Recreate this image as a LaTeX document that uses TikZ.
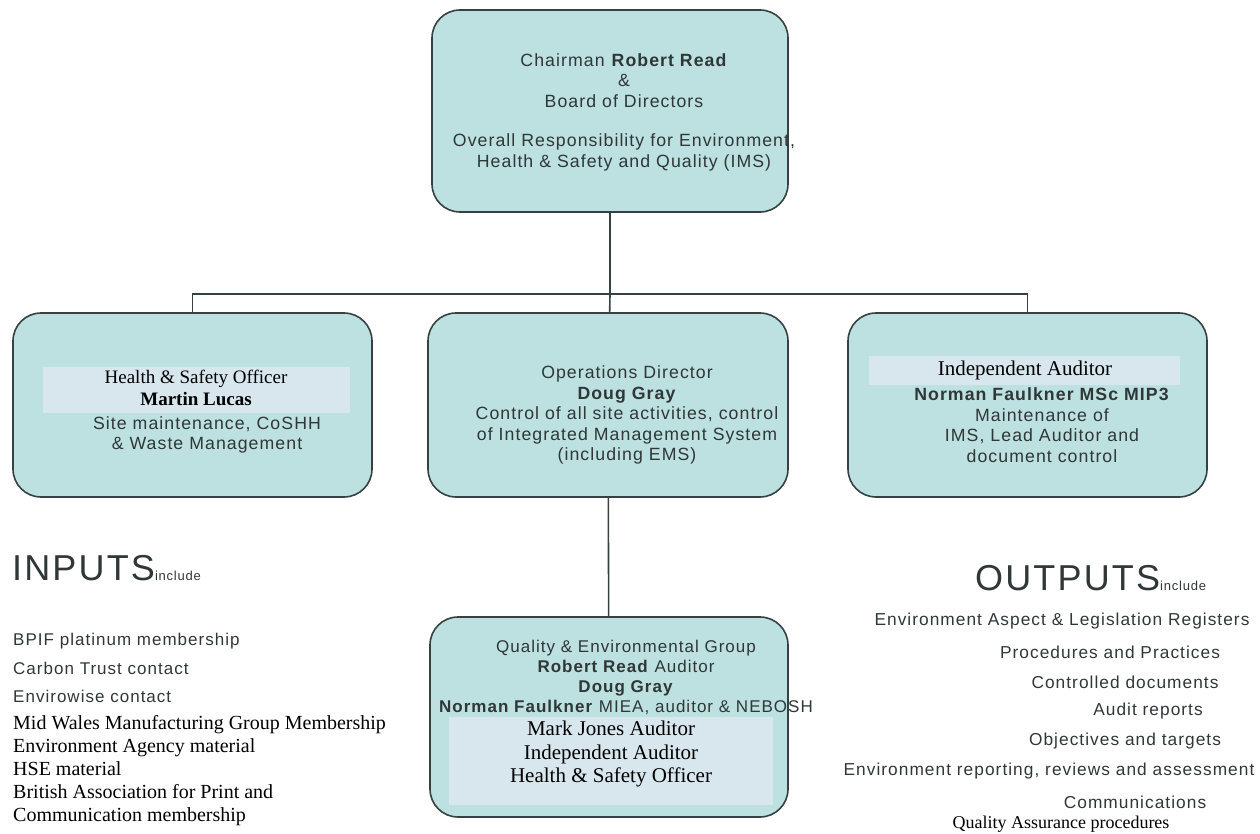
\documentclass[tikz,border=0pt]{standalone}
\usepackage{fontspec}
\setmainfont{Liberation Serif}
\newfontfamily\arialf[LetterSpace=6]{Liberation Sans}
\usetikzlibrary{positioning,calc}
\definecolor{boxfill}{HTML}{BDE0E1}
\definecolor{boxline}{HTML}{364242}
\definecolor{hilite}{HTML}{D8E6EE}
\definecolor{sgray}{HTML}{2F3737}

\begin{document}
\begin{tikzpicture}[x=1pt,y=-1pt,
   orgbox/.style={draw=boxline,fill=boxfill,line width=1.6pt,rounded corners=28pt,
              inner sep=0pt},
   hibox/.style={fill=hilite,draw=none},
   sanstxt/.style={font=\arialf\fontsize{17.7}{20.5}\selectfont,text=sgray,align=center,inner sep=0pt},
   sertxt/.style={font=\fontsize{21}{23.5}\selectfont,align=center,inner sep=0pt},
   link/.style={draw=boxline,line width=1.6pt}]
  \useasboundingbox (0,0) rectangle (1260,834);
  % boxes
  \node[orgbox,minimum width=356,minimum height=202] (chair) at (610,111) {};
  \node[orgbox,minimum width=359,minimum height=184] (hso) at (192.5,405) {};
  \node[orgbox,minimum width=360,minimum height=184] (ops) at (608,405) {};
  \node[orgbox,minimum width=359,minimum height=184] (aud) at (1027.5,405) {};
  \node[orgbox,minimum width=358,minimum height=200] (qeg) at (609,717) {};
  % connectors
  \coordinate (bus) at (610,294);
  \draw[link] (chair) -- (bus);
  \draw[link] (hso.north) |- (bus) -| (aud.north);
  \draw[link] (bus) -- (ops);
  \draw[link] (ops) -- (qeg);
  % chairman
  \node[sanstxt] (chairtxt) at (624,112) {Chairman \textbf{Robert Read}\\ \&\\ Board of Directors\\[19pt]
     Overall Responsibility for Environment,\\ Health \& Safety and Quality (IMS)};
  % health & safety
  \fill[hibox] (43,367) rectangle (350,413);
  \node[sertxt,font=\fontsize{19}{22}\selectfont] (hsoname) at (196,388) {Health \& Safety Officer\\ \textbf{Martin Lucas}};
  \node[sanstxt] (hsotxt) at (207,435) {Site maintenance, CoSHH\\ \& Waste Management};
  % operations
  \node[sanstxt] (opstxt) at (627,415) {Operations Director\\ \textbf{Doug Gray}\\ Control of all site activities, control\\
     of Integrated Management System\\ (including EMS)};
  % independent auditor
  \fill[hibox] (869,356) rectangle (1180,385);
  \node[sertxt] (audname) at (1025,370) {Independent Auditor};
  \node[sanstxt] (audtxt) at (1042,425) {\textbf{Norman Faulkner MSc MIP3}\\ Maintenance of\\ IMS, Lead Auditor and\\ document control};
  % quality group
  \node[sanstxt,font=\arialf\fontsize{17}{20}\selectfont] (qegtxt) at (626,677) {Quality \& Environmental Group\\ \textbf{Robert Read} Auditor\\ \textbf{Doug Gray}\\
     \textbf{Norman Faulkner} MIEA, auditor \& NEBOSH};
  \fill[hibox] (449,717) rectangle (773,805);
  \node[sertxt] (qegname) at (611,754) {Mark Jones Auditor\\ Independent Auditor\\ Health \& Safety Officer};
  % inputs
  \node[anchor=base west,inner sep=0pt,text=sgray] (inhead) at (12,580)
     {\arialf\fontsize{36}{36}\selectfont INPUTS\fontsize{13}{13}\selectfont include};
  \node[sanstxt,align=left,anchor=west,font=\arialf\fontsize{17}{28.5}\selectfont] (inlist) at (13,668)
     {BPIF platinum membership\\ Carbon Trust contact\\ Envirowise contact};
  \node[sertxt,align=left,anchor=west,font=\fontsize{20}{23}\selectfont] (inlist2) at (13,771)
     {Mid Wales Manufacturing Group Membership\\ Environment Agency material\\ HSE material\\
      British Association for Print and\\ Communication membership};
  % outputs
  \node[anchor=base west,inner sep=0pt,text=sgray] (outhead) at (975,590)
     {\arialf\fontsize{36}{36}\selectfont OUTPUTS\fontsize{13}{13}\selectfont include};
  \foreach \i/\x/\y/\t in {1/1062/621/Environment Aspect \& Legislation Registers,
      2/1110/652/Procedures and Practices, 3/1125/682/Controlled documents, 4/1148/711/Audit reports,
      5/1125/741/Objectives and targets, 6/1049/771/{Environment reporting, reviews and assessment},
      7/1135/802/Communications}
    \node[sanstxt,font=\arialf\fontsize{17.3}{20}\selectfont] (out\i) at (\x,\y) {\t};
  \node[sertxt,font=\fontsize{18}{20}\selectfont] (out8) at (1061,824) {Quality Assurance procedures};
\end{tikzpicture}
\end{document}
